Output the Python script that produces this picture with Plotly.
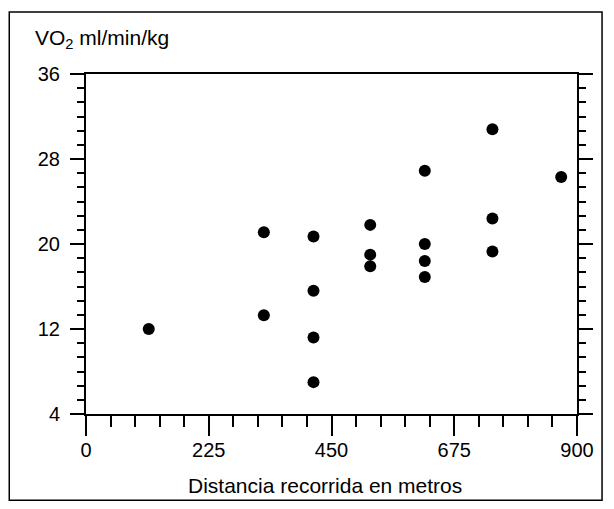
import plotly.graph_objects as go

# Data
distancia = [115, 326, 326, 417, 417, 417, 417, 521, 521, 521,
             621, 621, 621, 621, 745, 745, 745, 871]
vo2 = [12.0, 21.1, 13.3, 20.7, 15.6, 11.2, 7.0, 21.8, 19.0, 17.9,
       26.9, 20.0, 18.4, 16.9, 30.8, 22.4, 19.3, 26.3]

x_ticks = [0, 225, 450, 675, 900]
y_ticks = [4, 12, 20, 28, 36]

x_title = "Distancia recorrida en metros"
y_title = "VO<sub>2</sub> ml/min/kg"

FONT = "Liberation Sans, Arial, Helvetica, sans-serif"

# figure geometry (page body adds an 8px margin)
W, H = 598, 493
L, R, T, B = 78, 26, 66, 87
PW, PH = W - L - R, H - T - B


def px(fx):
    return (fx - L) / PW


def py(fy):
    return (H - B - fy) / PH


fig = go.Figure()
fig.add_trace(go.Scatter(
    x=distancia, y=vo2, mode="markers",
    marker=dict(size=12, color="black"),
    showlegend=False, hoverinfo="x+y",
))

axis_common = dict(
    showgrid=False, zeroline=False, showline=True,
    linecolor="black", linewidth=2,
    ticks="outside", tickcolor="black", tickwidth=2,
    tickfont=dict(family=FONT, size=20, color="black"),
)

fig.update_xaxes(
    **axis_common,
    range=[0, 900], tickmode="array", tickvals=x_ticks,
    ticktext=[str(v) for v in x_ticks],
    ticklen=20, mirror=True, ticklabelstandoff=-3,
    minor=dict(tick0=0, dtick=45, ticks="outside", ticklen=11,
               tickwidth=2, tickcolor="black"),
)
fig.update_yaxes(
    **axis_common,
    range=[4, 36], tickmode="array", tickvals=y_ticks,
    ticktext=[str(v) for v in y_ticks],
    ticklen=14, mirror="ticks", ticklabelstandoff=6,
    minor=dict(tick0=4, dtick=4 / 3, ticks="outside", ticklen=7,
               tickwidth=2, tickcolor="black"),
)

fig.add_annotation(
    text=x_title, xref="paper", yref="paper", x=0.487, y=py(477),
    xanchor="center", yanchor="middle", showarrow=False,
    font=dict(family=FONT, size=21, color="black"),
)
fig.add_annotation(
    text=y_title, xref="paper", yref="paper", x=px(25), y=py(31),
    xanchor="left", yanchor="middle", showarrow=False,
    font=dict(family=FONT, size=21, color="black"),
)

# outer frame
fig.add_shape(
    type="rect", xref="paper", yref="paper",
    x0=px(0.8), x1=px(W - 0.8),
    y0=py(H - 0.8), y1=py(4),
    line=dict(color="black", width=1.5), fillcolor="rgba(0,0,0,0)", layer="below",
)

fig.update_layout(
    width=W, height=H,
    margin=dict(l=L, r=R, t=T, b=B),
    paper_bgcolor="white", plot_bgcolor="white",
    font=dict(family=FONT, color="black"),
)

fig.write_html("out.html")
